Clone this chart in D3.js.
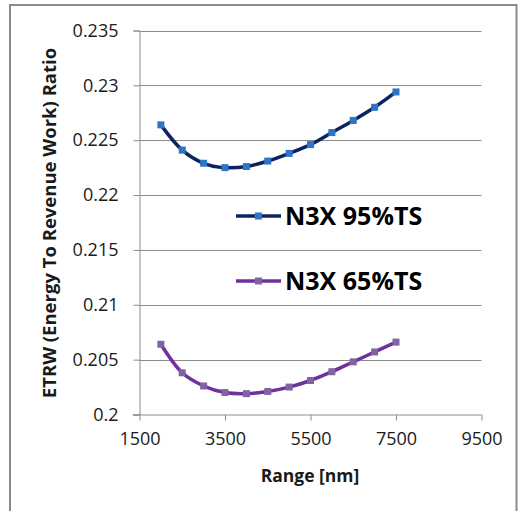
<!DOCTYPE html>
<html><head><meta charset="utf-8">
<script src="https://cdn.jsdelivr.net/npm/d3@7/dist/d3.min.js"></script>
<style>body{margin:0;background:#fff}svg{display:block}</style>
</head><body>
<script>
const ranges = [2000,2500,3000,3500,4000,4500,5000,5500,6000,6500,7000,7500];
const seriesNames = ["N3X 95%TS","N3X 65%TS"];
const ts95 = [0.2264,0.2241,0.2229,0.2225,0.2226,0.2231,0.2238,0.2246,0.2257,0.2268,0.2280,0.2294];
const ts65 = [0.2064,0.2038,0.2026,0.2020,0.2019,0.2021,0.2025,0.2031,0.2039,0.2048,0.2057,0.2066];
const xTicks = [1500,3500,5500,7500,9500];
const yTicks = [0.2,0.205,0.21,0.215,0.22,0.225,0.23,0.235];
const lineColors = ["#0c2461","#7030a0"];
const markerColors = ["#2e75c6","#8064a2"];

const W=518,H=511;
const svg=d3.select("body").append("svg").attr("width",W).attr("height",H);
const font="'Open Sans', sans-serif";
// outer frame
svg.append("rect").attr("x",10).attr("y",5).attr("width",506.5).attr("height",520)
  .attr("fill","none").attr("stroke","#8a8a8a").attr("stroke-width",2);

const x=d3.scaleLinear().domain([1500,9500]).range([139.5,481.5]);
const y=d3.scaleLinear().domain([0.2,0.235]).range([414.5,30.5]);

// gridlines
svg.append("g").selectAll("line").data(yTicks.slice(1)).join("line")
  .attr("x1",x(1500)).attr("x2",x(9500)).attr("y1",d=>Math.round(y(d))+0.5).attr("y2",d=>Math.round(y(d))+0.5)
  .attr("stroke","#8c8c8c").attr("stroke-width",1);

// y axis
const yAx=svg.append("g").attr("transform",`translate(${x(1500)},0)`)
  .call(d3.axisLeft(y).tickValues(yTicks).tickFormat(d=>String(+d.toFixed(3))).tickSize(6).tickPadding(15));
// x axis
const xAx=svg.append("g").attr("transform",`translate(0,${y(0.2)})`)
  .call(d3.axisBottom(x).tickValues(xTicks).tickFormat(d3.format("d")).tickSize(6).tickPadding(12));
[yAx,xAx].forEach(g=>{
  g.select(".domain").attr("stroke","#8c8c8c");
  g.selectAll(".tick line").attr("stroke","#8c8c8c");
  g.selectAll("text").attr("font-family",font).attr("font-size",18).attr("fill","#1a1a1a");
});
xAx.select(".domain").attr("d",`M${x(1500)-7},0.5H${x(9500)}`);

// lines
const line=d3.line().x((d,i)=>x(ranges[i])).y(d=>y(d)).curve(d3.curveCatmullRom.alpha(0.5));
[ts95,ts65].forEach((s,k)=>{
  svg.append("path").attr("d",line(s)).attr("fill","none").attr("stroke",lineColors[k]).attr("stroke-width",3.5).attr("stroke-linejoin","round");
  svg.append("g").selectAll("rect").data(s).join("rect")
    .attr("x",(d,i)=>x(ranges[i])-3.5).attr("y",d=>y(d)-3.5).attr("width",7).attr("height",7)
    .attr("fill",markerColors[k]);
});

// legend
const legY=[216,281];
seriesNames.forEach((n,k)=>{
  const g=svg.append("g");
  g.append("line").attr("x1",236).attr("x2",281).attr("y1",legY[k]).attr("y2",legY[k]).attr("stroke",lineColors[k]).attr("stroke-width",3.5);
  g.append("rect").attr("x",255).attr("y",legY[k]-3.5).attr("width",7).attr("height",7).attr("fill",markerColors[k]);
  g.append("text").attr("x",285).attr("y",legY[k]).attr("dy","0.36em").attr("font-family",font).attr("font-weight","bold")
    .attr("font-size",25).attr("fill","#000").text(n);
});

// axis titles
svg.append("text").attr("x",310).attr("y",476).attr("dy","0.35em").attr("text-anchor","middle")
  .attr("font-family",font).attr("font-weight","bold").attr("font-size",17.5).attr("fill","#1a1a1a").text("Range [nm]");
svg.append("text").attr("transform","translate(50,223) rotate(-90)").attr("dy","0.35em").attr("text-anchor","middle")
  .attr("font-family",font).attr("font-weight","bold").attr("font-size",18.5).attr("fill","#1a1a1a").text("ETRW (Energy To Revenue Work) Ratio");
</script>
</body></html>
